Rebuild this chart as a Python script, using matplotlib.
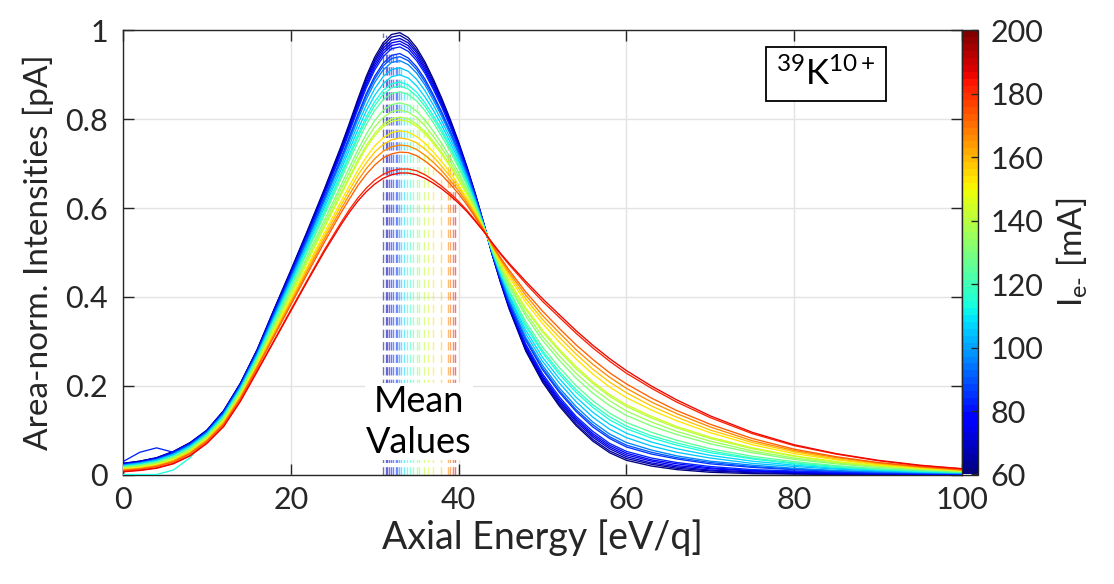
import matplotlib.pyplot as plt
from matplotlib.colors import Normalize
from matplotlib.cm import ScalarMappable

plt.rcParams['font.family'] = ['Lato', 'DejaVu Sans']
plt.rcParams['mathtext.fontset'] = 'custom'
plt.rcParams['mathtext.rm'] = 'Lato'
plt.rcParams['mathtext.it'] = 'Lato'

# axial energy grid [eV/q]
energy = [0, 2, 4, 6, 8, 10, 12, 14, 16, 18, 20, 22, 24, 26,
          27, 28, 29, 30, 31, 32, 33, 34, 35, 36, 37, 38, 39, 40,
          41, 42, 43, 44, 45, 46, 48, 50, 52, 54, 56, 58, 60,
          63, 66, 70, 75, 80, 85, 90, 95, 100]

# electron beam current of each spectrum [mA]
current = [62, 66, 70, 74, 78, 82, 86, 90, 96, 104, 108, 114,
           118, 124, 130, 135, 140, 145, 152, 157, 165, 172, 182, 186]

# mean energy of each spectrum [eV/q]
mean_energy = [31.0, 31.3, 31.5, 31.7, 31.9, 32.2, 32.5, 32.7, 32.9, 33.1,
               33.5, 33.8, 34.2, 34.6, 35.0, 35.3, 35.9, 36.3, 37.0, 37.9,
               38.7, 39.0, 39.3, 39.6]

# area-normalised intensities, one row per current
intensity = [
    [0.025, 0.030, 0.038, 0.052, 0.072, 0.100, 0.144, 0.206, 0.282, 0.372, 0.460, 0.550, 0.643, 0.740,
     0.792, 0.846, 0.897, 0.940, 0.972, 0.991, 0.995, 0.984, 0.961, 0.929, 0.890, 0.847, 0.800, 0.749,
     0.693, 0.632, 0.565, 0.495, 0.432, 0.374, 0.278, 0.208, 0.154, 0.110, 0.075, 0.049, 0.032,
     0.019, 0.011, 0.005, 0.002, 0.001, 0.000, 0.000, 0.000, 0.000],
    [0.025, 0.030, 0.037, 0.051, 0.071, 0.099, 0.143, 0.205, 0.281, 0.371, 0.458, 0.548, 0.640, 0.737,
     0.788, 0.841, 0.892, 0.934, 0.966, 0.985, 0.989, 0.978, 0.955, 0.924, 0.885, 0.843, 0.797, 0.746,
     0.691, 0.631, 0.565, 0.496, 0.433, 0.376, 0.281, 0.212, 0.158, 0.114, 0.079, 0.053, 0.036,
     0.023, 0.014, 0.008, 0.004, 0.002, 0.001, 0.001, 0.000, 0.000],
    [0.024, 0.029, 0.037, 0.051, 0.071, 0.099, 0.143, 0.204, 0.280, 0.369, 0.456, 0.545, 0.637, 0.733,
     0.784, 0.837, 0.887, 0.929, 0.960, 0.978, 0.982, 0.972, 0.950, 0.918, 0.881, 0.839, 0.793, 0.744,
     0.689, 0.630, 0.564, 0.496, 0.435, 0.378, 0.284, 0.216, 0.162, 0.119, 0.084, 0.058, 0.040,
     0.026, 0.017, 0.010, 0.006, 0.004, 0.002, 0.001, 0.001, 0.001],
    [0.024, 0.029, 0.037, 0.050, 0.070, 0.098, 0.142, 0.204, 0.279, 0.368, 0.454, 0.543, 0.635, 0.729,
     0.780, 0.832, 0.881, 0.923, 0.954, 0.972, 0.976, 0.966, 0.944, 0.913, 0.876, 0.835, 0.790, 0.741,
     0.687, 0.628, 0.564, 0.497, 0.436, 0.380, 0.287, 0.219, 0.166, 0.123, 0.088, 0.062, 0.044,
     0.030, 0.020, 0.013, 0.008, 0.005, 0.003, 0.002, 0.001, 0.001],
    [0.023, 0.028, 0.036, 0.050, 0.070, 0.098, 0.141, 0.203, 0.278, 0.366, 0.453, 0.541, 0.632, 0.726,
     0.776, 0.828, 0.876, 0.917, 0.948, 0.966, 0.970, 0.960, 0.938, 0.908, 0.871, 0.831, 0.786, 0.738,
     0.685, 0.627, 0.564, 0.497, 0.437, 0.382, 0.291, 0.223, 0.170, 0.127, 0.092, 0.066, 0.048,
     0.033, 0.024, 0.015, 0.009, 0.006, 0.004, 0.003, 0.002, 0.001],
    [0.029, 0.050, 0.060, 0.050, 0.069, 0.097, 0.140, 0.202, 0.277, 0.365, 0.451, 0.539, 0.629, 0.722,
     0.772, 0.823, 0.871, 0.911, 0.941, 0.959, 0.963, 0.953, 0.932, 0.903, 0.867, 0.827, 0.783, 0.735,
     0.683, 0.626, 0.563, 0.498, 0.439, 0.384, 0.294, 0.227, 0.175, 0.131, 0.097, 0.070, 0.052,
     0.037, 0.027, 0.018, 0.011, 0.008, 0.005, 0.003, 0.002, 0.001],
    [0.022, 0.027, 0.034, 0.048, 0.067, 0.096, 0.139, 0.200, 0.275, 0.361, 0.446, 0.533, 0.622, 0.713,
     0.762, 0.811, 0.858, 0.897, 0.926, 0.944, 0.948, 0.938, 0.918, 0.890, 0.855, 0.816, 0.774, 0.728,
     0.678, 0.623, 0.562, 0.499, 0.442, 0.389, 0.302, 0.236, 0.185, 0.142, 0.107, 0.081, 0.062,
     0.046, 0.035, 0.024, 0.016, 0.011, 0.007, 0.005, 0.003, 0.002],
    [0.022, 0.026, 0.034, 0.047, 0.067, 0.095, 0.138, 0.199, 0.274, 0.360, 0.444, 0.531, 0.619, 0.710,
     0.758, 0.807, 0.853, 0.891, 0.920, 0.937, 0.941, 0.932, 0.912, 0.884, 0.850, 0.812, 0.771, 0.726,
     0.676, 0.621, 0.562, 0.500, 0.443, 0.391, 0.305, 0.240, 0.189, 0.146, 0.112, 0.085, 0.066,
     0.050, 0.038, 0.027, 0.018, 0.012, 0.008, 0.005, 0.004, 0.002],
    [0.021, 0.026, 0.033, 0.046, 0.066, 0.094, 0.137, 0.198, 0.272, 0.358, 0.442, 0.527, 0.615, 0.705,
     0.752, 0.800, 0.845, 0.883, 0.911, 0.928, 0.932, 0.923, 0.904, 0.877, 0.843, 0.806, 0.766, 0.721,
     0.673, 0.620, 0.561, 0.500, 0.445, 0.394, 0.309, 0.246, 0.195, 0.153, 0.118, 0.091, 0.072,
     0.055, 0.042, 0.030, 0.021, 0.014, 0.009, 0.006, 0.004, 0.003],
    [0.020, 0.025, 0.032, 0.045, 0.064, 0.093, 0.135, 0.196, 0.270, 0.354, 0.437, 0.522, 0.608, 0.696,
     0.742, 0.789, 0.832, 0.869, 0.896, 0.912, 0.916, 0.908, 0.890, 0.864, 0.832, 0.796, 0.757, 0.715,
     0.668, 0.617, 0.561, 0.502, 0.449, 0.400, 0.317, 0.255, 0.206, 0.164, 0.129, 0.102, 0.083,
     0.064, 0.050, 0.037, 0.025, 0.018, 0.012, 0.008, 0.005, 0.003],
    [0.019, 0.024, 0.031, 0.044, 0.063, 0.091, 0.133, 0.194, 0.267, 0.350, 0.432, 0.516, 0.601, 0.687,
     0.732, 0.777, 0.819, 0.854, 0.880, 0.896, 0.900, 0.893, 0.875, 0.850, 0.820, 0.786, 0.748, 0.708,
     0.663, 0.613, 0.560, 0.503, 0.452, 0.405, 0.325, 0.264, 0.216, 0.174, 0.140, 0.113, 0.093,
     0.073, 0.058, 0.043, 0.030, 0.021, 0.014, 0.010, 0.006, 0.004],
    [0.000, 0.000, 0.000, 0.010, 0.038, 0.080, 0.131, 0.192, 0.265, 0.347, 0.428, 0.510, 0.594, 0.678,
     0.722, 0.766, 0.806, 0.840, 0.865, 0.880, 0.884, 0.877, 0.861, 0.837, 0.808, 0.776, 0.740, 0.701,
     0.658, 0.610, 0.559, 0.504, 0.455, 0.410, 0.333, 0.274, 0.226, 0.185, 0.151, 0.123, 0.103,
     0.082, 0.066, 0.049, 0.035, 0.024, 0.016, 0.011, 0.007, 0.005],
    [0.018, 0.022, 0.029, 0.041, 0.061, 0.089, 0.130, 0.190, 0.263, 0.345, 0.425, 0.507, 0.589, 0.673,
     0.716, 0.759, 0.798, 0.831, 0.856, 0.871, 0.875, 0.868, 0.852, 0.829, 0.801, 0.770, 0.735, 0.697,
     0.655, 0.608, 0.558, 0.505, 0.457, 0.413, 0.338, 0.279, 0.232, 0.191, 0.157, 0.130, 0.109,
     0.087, 0.071, 0.053, 0.037, 0.026, 0.018, 0.012, 0.008, 0.005],
    [0.017, 0.021, 0.028, 0.040, 0.059, 0.087, 0.129, 0.189, 0.261, 0.342, 0.421, 0.502, 0.584, 0.666,
     0.708, 0.749, 0.788, 0.820, 0.844, 0.858, 0.862, 0.856, 0.841, 0.819, 0.792, 0.761, 0.728, 0.691,
     0.651, 0.606, 0.557, 0.506, 0.460, 0.417, 0.344, 0.287, 0.241, 0.200, 0.166, 0.138, 0.117,
     0.095, 0.077, 0.058, 0.041, 0.029, 0.020, 0.013, 0.009, 0.005],
    [0.016, 0.020, 0.026, 0.038, 0.057, 0.085, 0.126, 0.186, 0.257, 0.336, 0.414, 0.493, 0.573, 0.652,
     0.692, 0.731, 0.767, 0.797, 0.820, 0.833, 0.837, 0.832, 0.818, 0.798, 0.773, 0.745, 0.714, 0.680,
     0.643, 0.601, 0.556, 0.509, 0.465, 0.425, 0.357, 0.302, 0.257, 0.217, 0.183, 0.155, 0.133,
     0.109, 0.090, 0.069, 0.049, 0.034, 0.024, 0.016, 0.011, 0.007],
    [0.015, 0.018, 0.025, 0.037, 0.056, 0.084, 0.124, 0.183, 0.255, 0.332, 0.409, 0.487, 0.565, 0.643,
     0.681, 0.720, 0.754, 0.783, 0.804, 0.817, 0.821, 0.816, 0.804, 0.785, 0.761, 0.735, 0.705, 0.673,
     0.637, 0.598, 0.555, 0.510, 0.468, 0.430, 0.364, 0.311, 0.267, 0.228, 0.194, 0.166, 0.143,
     0.118, 0.097, 0.075, 0.053, 0.037, 0.026, 0.018, 0.012, 0.007],
    [0.014, 0.017, 0.024, 0.035, 0.054, 0.082, 0.122, 0.181, 0.252, 0.329, 0.405, 0.482, 0.558, 0.634,
     0.671, 0.708, 0.741, 0.768, 0.789, 0.801, 0.805, 0.801, 0.789, 0.772, 0.750, 0.725, 0.697, 0.666,
     0.632, 0.595, 0.554, 0.511, 0.472, 0.435, 0.372, 0.321, 0.278, 0.238, 0.205, 0.176, 0.153,
     0.127, 0.105, 0.081, 0.058, 0.041, 0.028, 0.019, 0.013, 0.008],
    [0.013, 0.017, 0.023, 0.035, 0.053, 0.081, 0.122, 0.181, 0.251, 0.327, 0.403, 0.479, 0.556, 0.630,
     0.667, 0.703, 0.736, 0.763, 0.783, 0.795, 0.799, 0.795, 0.784, 0.767, 0.745, 0.721, 0.693, 0.663,
     0.630, 0.594, 0.554, 0.512, 0.473, 0.437, 0.375, 0.325, 0.282, 0.243, 0.209, 0.180, 0.157,
     0.131, 0.108, 0.084, 0.060, 0.042, 0.029, 0.020, 0.013, 0.008],
    [0.012, 0.015, 0.021, 0.032, 0.051, 0.079, 0.119, 0.177, 0.247, 0.322, 0.396, 0.470, 0.544, 0.616,
     0.651, 0.685, 0.715, 0.740, 0.758, 0.770, 0.774, 0.771, 0.761, 0.746, 0.726, 0.704, 0.680, 0.652,
     0.622, 0.589, 0.552, 0.514, 0.478, 0.445, 0.388, 0.340, 0.298, 0.260, 0.226, 0.197, 0.173,
     0.145, 0.121, 0.094, 0.067, 0.047, 0.033, 0.022, 0.015, 0.009],
    [0.011, 0.014, 0.020, 0.031, 0.050, 0.078, 0.117, 0.175, 0.245, 0.318, 0.391, 0.465, 0.537, 0.607,
     0.641, 0.674, 0.702, 0.726, 0.743, 0.754, 0.758, 0.755, 0.747, 0.733, 0.715, 0.694, 0.671, 0.646,
     0.617, 0.586, 0.552, 0.515, 0.482, 0.451, 0.396, 0.349, 0.309, 0.271, 0.237, 0.208, 0.184,
     0.154, 0.129, 0.100, 0.072, 0.051, 0.035, 0.024, 0.016, 0.010],
    [0.010, 0.013, 0.019, 0.030, 0.048, 0.076, 0.115, 0.173, 0.242, 0.314, 0.386, 0.459, 0.530, 0.598,
     0.631, 0.662, 0.689, 0.711, 0.728, 0.738, 0.742, 0.740, 0.732, 0.719, 0.703, 0.684, 0.662, 0.639,
     0.612, 0.582, 0.551, 0.517, 0.485, 0.456, 0.404, 0.358, 0.319, 0.281, 0.248, 0.219, 0.194,
     0.163, 0.137, 0.107, 0.076, 0.054, 0.038, 0.026, 0.017, 0.010],
    [0.009, 0.012, 0.018, 0.028, 0.047, 0.075, 0.113, 0.171, 0.240, 0.311, 0.382, 0.453, 0.523, 0.590,
     0.621, 0.651, 0.676, 0.697, 0.713, 0.722, 0.726, 0.725, 0.718, 0.706, 0.691, 0.674, 0.654, 0.632,
     0.607, 0.579, 0.550, 0.518, 0.488, 0.461, 0.411, 0.368, 0.329, 0.292, 0.259, 0.229, 0.204,
     0.172, 0.144, 0.113, 0.081, 0.057, 0.040, 0.027, 0.018, 0.011],
    [0.007, 0.010, 0.015, 0.025, 0.043, 0.071, 0.109, 0.166, 0.234, 0.302, 0.371, 0.439, 0.506, 0.568,
     0.597, 0.623, 0.645, 0.663, 0.676, 0.684, 0.688, 0.688, 0.684, 0.675, 0.663, 0.649, 0.633, 0.615,
     0.595, 0.572, 0.548, 0.521, 0.496, 0.473, 0.430, 0.390, 0.354, 0.318, 0.285, 0.255, 0.228,
     0.194, 0.163, 0.128, 0.092, 0.065, 0.046, 0.031, 0.020, 0.013],
    [0.006, 0.009, 0.014, 0.024, 0.042, 0.070, 0.108, 0.165, 0.232, 0.300, 0.368, 0.436, 0.502, 0.563,
     0.591, 0.616, 0.637, 0.654, 0.667, 0.675, 0.679, 0.679, 0.675, 0.667, 0.656, 0.643, 0.628, 0.611,
     0.592, 0.570, 0.547, 0.522, 0.498, 0.476, 0.435, 0.396, 0.360, 0.324, 0.291, 0.261, 0.234,
     0.199, 0.168, 0.132, 0.095, 0.067, 0.047, 0.032, 0.021, 0.013],
]

cmap = plt.get_cmap('jet', 64)
norm = Normalize(vmin=60, vmax=200)
text_col = '#262626'

fig = plt.figure(figsize=(11.14, 5.84), dpi=100)
ax = fig.add_axes([0.1104, 0.1875, 0.7532, 0.7603])
cax = fig.add_axes([0.8636, 0.1875, 0.0144, 0.7603])

for cur, mean, row in zip(current, mean_energy, intensity):
    col = cmap(norm(cur))
    ax.plot(energy, row, color=col, lw=0.95, zorder=3)
    # mean value marker, from zero up to the peak of the spectrum
    ax.plot([mean, mean], [0, max(row)], color=col, lw=1.0,
            ls=(0, (6, 3)), alpha=0.55, zorder=2)

ax.text(35.3, 0.119, 'Mean\nValues', ha='center', va='center', fontsize=26,
        color='black', linespacing=1.3, zorder=4,
        bbox=dict(facecolor='white', edgecolor='none', pad=1))

ax.text(83.8, 0.902, r'$^{39}$K$^{10+}$', ha='center', va='center',
        fontsize=25, color='black', zorder=5,
        bbox=dict(facecolor='white', edgecolor='black', linewidth=1.3,
                  boxstyle='square,pad=0.28'))

ax.set_xlim(0, 100)
ax.set_ylim(0, 1)
ax.set_xticks(range(0, 101, 20))
ax.set_yticks([0, 0.2, 0.4, 0.6, 0.8, 1])
ax.set_yticklabels(['0', '0.2', '0.4', '0.6', '0.8', '1'])
ax.grid(True, color='#e3e3e3', lw=1.0)
ax.set_axisbelow(True)
ax.tick_params(direction='in', length=8, width=1, top=True, right=True,
               labelsize=22, labelcolor=text_col, color=text_col)
ax.tick_params(axis='y', pad=11)
ax.tick_params(axis='x', pad=8)
for sp in ax.spines.values():
    sp.set_color(text_col)
    sp.set_linewidth(1.0)

ax.set_xlabel('Axial Energy [eV/q]', fontsize=27, color=text_col, labelpad=4)
ax.set_ylabel('Area-norm. Intensities [pA]', fontsize=24, color=text_col, labelpad=8)

cb = fig.colorbar(ScalarMappable(norm=norm, cmap=cmap), cax=cax)
cb.set_ticks(range(60, 201, 20))
cax.tick_params(direction='in', length=5, width=1, labelsize=22,
                labelcolor=text_col, color=text_col, pad=9)
cb.outline.set_edgecolor(text_col)
cb.outline.set_linewidth(1.0)
cb.set_label(r'I$_{\text{e-}}$ [mA]', fontsize=24, color=text_col, labelpad=8)

fig.savefig('out.png', dpi=100, facecolor='white')
